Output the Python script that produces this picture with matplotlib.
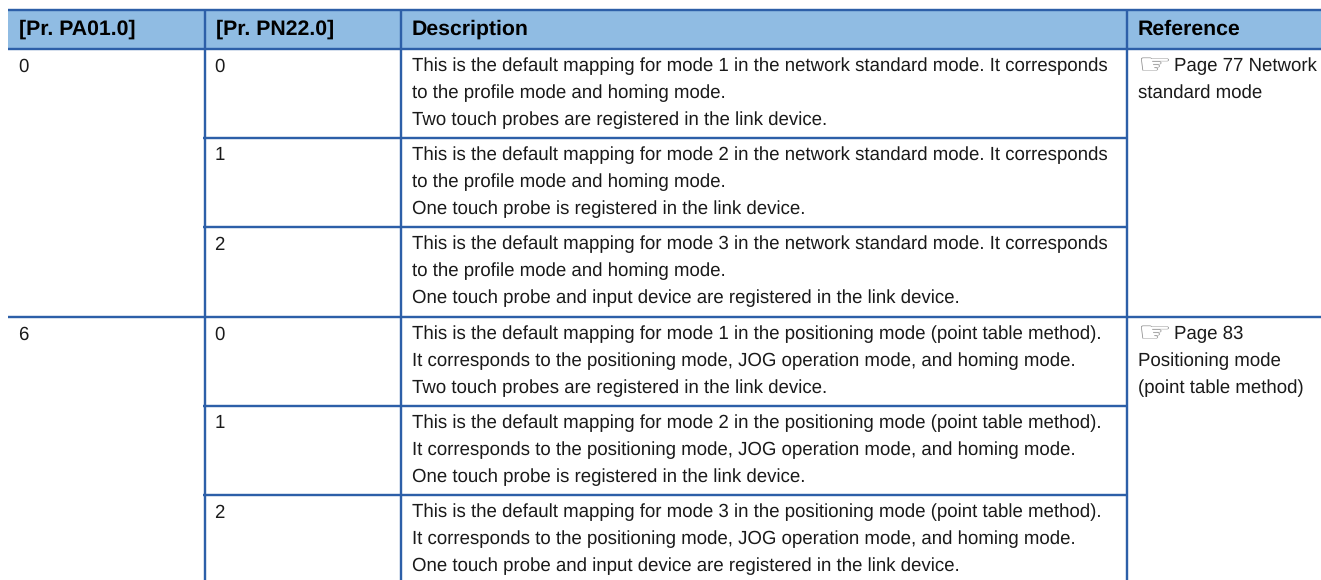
import matplotlib
matplotlib.use('Agg')
import matplotlib.pyplot as plt
from matplotlib.patches import Rectangle, PathPatch
from matplotlib.textpath import TextPath
from matplotlib.font_manager import FontProperties
from matplotlib.transforms import Affine2D

plt.rcParams['font.family'] = ['Liberation Sans', 'DejaVu Sans']
plt.rcParams['text.hinting'] = 'no_hinting'
plt.rcParams['text.hinting_factor'] = 8

# table content
headers = ['[Pr. PA01.0]', '[Pr. PN22.0]', 'Description', 'Reference']
pa01 = ['0', '6']
pn22 = ['0', '1', '2', '0', '1', '2']
desc = [
    'This is the default mapping for mode 1 in the network standard mode. It corresponds\nto the profile mode and homing mode.\nTwo touch probes are registered in the link device.',
    'This is the default mapping for mode 2 in the network standard mode. It corresponds\nto the profile mode and homing mode.\nOne touch probe is registered in the link device.',
    'This is the default mapping for mode 3 in the network standard mode. It corresponds\nto the profile mode and homing mode.\nOne touch probe and input device are registered in the link device.',
    'This is the default mapping for mode 1 in the positioning mode (point table method).\nIt corresponds to the positioning mode, JOG operation mode, and homing mode.\nTwo touch probes are registered in the link device.',
    'This is the default mapping for mode 2 in the positioning mode (point table method).\nIt corresponds to the positioning mode, JOG operation mode, and homing mode.\nOne touch probe is registered in the link device.',
    'This is the default mapping for mode 3 in the positioning mode (point table method).\nIt corresponds to the positioning mode, JOG operation mode, and homing mode.\nOne touch probe and input device are registered in the link device.',
]
refs = [['Page 77 Network', 'standard mode'], ['Page 83', 'Positioning mode', '(point table method)']]

# layout in pixels
col_x = [8, 205, 401, 1127, 1321]
row_y = [49, 138, 227, 317, 406, 495]
top = 10
bottom = 580
line_c = '#2d5fa8'
head_c = '#90bce3'
text_c = '#1a1a1a'
lw = 2.4 * 72 / 100
fs = 13.4
step = 26.6

fig = plt.figure(figsize=(13.21, 5.8), dpi=100)
ax = fig.add_axes([0, 0, 1, 1])
ax.set_xlim(0, 1321)
ax.set_ylim(580, 0)
ax.axis('off')

ax.add_patch(Rectangle((col_x[0], top), col_x[-1] - col_x[0], row_y[0] - top, fc=head_c, ec='none'))
ax.plot([col_x[0], col_x[-1]], [top, top], color=line_c, lw=lw, solid_capstyle='butt')
ax.plot([col_x[0], col_x[-1]], [row_y[0], row_y[0]], color=line_c, lw=lw, solid_capstyle='butt')
for i in range(1, 4):
    ax.plot([col_x[i], col_x[i]], [top, bottom], color=line_c, lw=lw, solid_capstyle='butt')

# group and row lines
ax.plot([col_x[0], col_x[-1]], [row_y[3], row_y[3]], color=line_c, lw=lw, solid_capstyle='butt')
for i in [1, 2, 4, 5]:
    ax.plot([col_x[1] - 2, col_x[3]], [row_y[i], row_y[i]], color=line_c, lw=lw, solid_capstyle='butt')

# header
for i, h in enumerate(headers):
    ax.text(col_x[i] + 11, 35, h, fontsize=15.3, fontweight='bold', color='black', va='baseline', ha='left')


def hand(x, y):
    # pointing hand icon, squashed to the flat shape in the reference
    tp = TextPath((0, 0), '\u261e', size=20, prop=FontProperties(family='DejaVu Sans'))
    bb = tp.get_extents()
    tr = Affine2D().translate(-bb.x0, -bb.y0).scale(28 / bb.width, -13 / bb.height).translate(x, y)
    ax.add_patch(PathPatch(tr.transform_path(tp), fc='#8c8c8c', ec='none'))


# cells
for i, v in enumerate(pa01):
    ax.text(col_x[0] + 10.5, row_y[i * 3] + 22.5, v, fontsize=fs, color=text_c, va='baseline')
for i, v in enumerate(pn22):
    ax.text(col_x[1] + 9.5, row_y[i] + 22.5, v, fontsize=fs, color=text_c, va='baseline')
for i, block in enumerate(desc):
    for j, line in enumerate(block.split('\n')):
        ax.text(col_x[2] + 11, row_y[i] + 22.5 + j * step, line, fontsize=fs, color=text_c, va='baseline')
for i, block in enumerate(refs):
    y = row_y[i * 3] + 22.5
    hand(col_x[3] + 14, y - 1)
    ax.text(col_x[3] + 47.5, y, block[0], fontsize=fs, color=text_c, va='baseline')
    for j, line in enumerate(block[1:]):
        ax.text(col_x[3] + 11, y + (j + 1) * step, line, fontsize=fs, color=text_c, va='baseline')

fig.savefig('out.png', dpi=100)
